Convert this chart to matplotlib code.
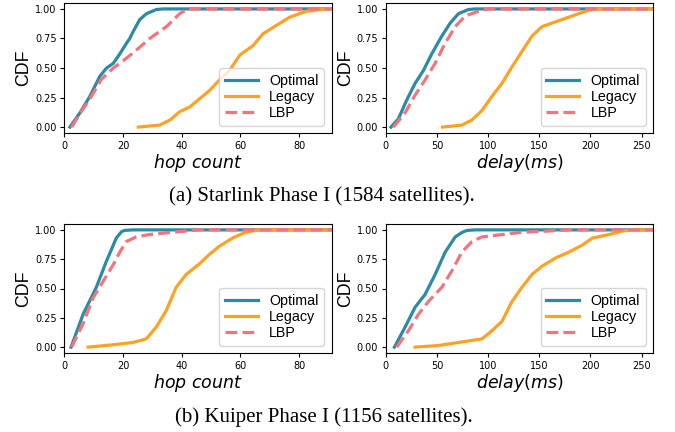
import numpy as np
import matplotlib
matplotlib.use("Agg")
import matplotlib.pyplot as plt

# colours
c_opt = "#2b8ba6"
c_leg = "#ffa123"
c_lbp = "#f6737b"

# ---- Starlink, hop count ----
sl_hop_opt_x = [1.9, 5.3, 8.7, 12.1, 14.4, 16.7, 18.9, 21.2, 22.3, 23.5, 25.7, 28.0, 31.4, 33.7]
sl_hop_opt_y = [0.0, 0.12, 0.26, 0.43, 0.50, 0.54, 0.62, 0.71, 0.75, 0.81, 0.91, 0.96, 0.995, 1.0]
sl_hop_lbp_x = [2.5, 5.5, 9.0, 12.5, 16.7, 20.0, 24.0, 29.1, 34.8, 39.3, 42.2]
sl_hop_lbp_y = [0.0, 0.12, 0.25, 0.40, 0.50, 0.56, 0.64, 0.75, 0.85, 0.96, 1.0]
sl_hop_leg_x = [25.2, 32.5, 36.0, 39.3, 42.7, 46.1, 49.5, 52.9, 56.3, 59.8, 64.3, 67.7, 72.2, 76.8, 82.4, 89.2]
sl_hop_leg_y = [0.0, 0.017, 0.06, 0.13, 0.17, 0.24, 0.31, 0.40, 0.48, 0.61, 0.69, 0.79, 0.86, 0.93, 0.98, 1.0]

# ---- Starlink, delay ----
sl_del_opt_x = [5.2, 12.4, 20.6, 28.7, 36.9, 45.0, 54.8, 63.0, 71.1, 80.9, 87.5]
sl_del_opt_y = [0.0, 0.07, 0.23, 0.37, 0.48, 0.62, 0.77, 0.88, 0.96, 0.995, 1.0]
sl_del_lbp_x = [7.5, 18.9, 28.7, 38.5, 48.3, 58.1, 67.9, 77.7, 90.7, 100.5]
sl_del_lbp_y = [0.0, 0.12, 0.27, 0.40, 0.54, 0.71, 0.85, 0.94, 0.98, 1.0]
sl_del_leg_x = [55.5, 74.4, 84.2, 94.0, 103.8, 113.6, 123.4, 133.1, 142.9, 152.7, 162.5, 172.3, 185.4, 198.4, 208.2]
sl_del_leg_y = [0.0, 0.017, 0.06, 0.14, 0.26, 0.37, 0.51, 0.64, 0.77, 0.85, 0.88, 0.91, 0.95, 0.99, 1.0]

# ---- Kuiper, hop count ----
ku_hop_opt_x = [2.3, 6.4, 10.9, 14.3, 17.7, 19.5, 20.5, 23.4]
ku_hop_opt_y = [0.0, 0.28, 0.51, 0.73, 0.93, 0.985, 0.995, 1.0]
ku_hop_lbp_x = [2.5, 6.4, 9.8, 13.2, 16.6, 18.9, 21.1, 24.5, 29.0, 36.9, 41.5, 46.0]
ku_hop_lbp_y = [0.0, 0.20, 0.42, 0.56, 0.70, 0.81, 0.90, 0.94, 0.96, 0.98, 0.99, 1.0]
ku_hop_leg_x = [8.1, 16.6, 23.4, 27.9, 31.3, 34.7, 38.1, 41.5, 46.0, 49.4, 52.8, 57.3, 61.8, 66.3]
ku_hop_leg_y = [0.0, 0.02, 0.04, 0.07, 0.17, 0.31, 0.51, 0.62, 0.71, 0.79, 0.86, 0.93, 0.98, 1.0]

# ---- Kuiper, delay ----
ku_del_opt_x = [8.5, 18.9, 28.7, 38.5, 48.3, 58.1, 67.9, 75.0, 79.3, 87.5]
ku_del_opt_y = [0.0, 0.17, 0.34, 0.45, 0.62, 0.81, 0.94, 0.98, 0.995, 1.0]
ku_del_lbp_x = [10.8, 22.2, 32.0, 41.8, 54.8, 64.6, 74.4, 84.2, 94.0, 113.6, 133.1, 159.3, 178.9]
ku_del_lbp_y = [0.0, 0.14, 0.28, 0.39, 0.51, 0.65, 0.81, 0.90, 0.94, 0.96, 0.98, 0.99, 1.0]
ku_del_leg_x = [28.7, 51.6, 71.1, 94.0, 103.8, 113.6, 123.4, 133.1, 142.9, 152.7, 165.8, 178.9, 192.0, 201.8, 218.1, 231.2, 244.3]
ku_del_leg_y = [0.0, 0.014, 0.04, 0.07, 0.14, 0.22, 0.39, 0.51, 0.62, 0.69, 0.76, 0.81, 0.87, 0.93, 0.96, 0.99, 1.0]

hop_xlim = 91
del_xlim = 261

fig = plt.figure(figsize=(6.75, 4.32), dpi=100)

def panel(rect, opt, leg, lbp, xmax, xlabel, xticks):
    ax = fig.add_axes(rect)
    ax.plot(list(opt[0]) + [xmax], list(opt[1]) + [1.0], color=c_opt, lw=2.3, label="Optimal")
    ax.plot(list(leg[0]) + [xmax], list(leg[1]) + [1.0], color=c_leg, lw=2.3, label="Legacy")
    ax.plot(list(lbp[0]) + [xmax], list(lbp[1]) + [1.0], color=c_lbp, lw=2.3, ls="--", label="LBP")
    ax.set_xlim(0, xmax)
    ax.set_ylim(-0.05, 1.05)
    ax.set_xticks(xticks)
    ax.set_yticks([0, 0.25, 0.5, 0.75, 1.0])
    ax.tick_params(labelsize=7, length=3, width=0.8, pad=2.5)
    ax.set_ylabel("CDF", fontsize=12.8, family="Liberation Sans", labelpad=2)
    ax.set_xlabel(xlabel, fontsize=12.5, labelpad=1)
    ax.legend(loc="lower right", prop={"family": "Liberation Sans", "size": 10.3},
              handlelength=2.3, borderpad=0.4, labelspacing=0.15, handletextpad=0.8)
    return ax

l1, l2, w = 64.3 / 675, 385.7 / 675, 267.2 / 675
panel([l1, 1 - 133 / 432, w, 130 / 432], (sl_hop_opt_x, sl_hop_opt_y), (sl_hop_leg_x, sl_hop_leg_y),
      (sl_hop_lbp_x, sl_hop_lbp_y), hop_xlim, r"$hop\ count$", [0, 20, 40, 60, 80])
panel([l2, 1 - 133 / 432, w, 130 / 432], (sl_del_opt_x, sl_del_opt_y), (sl_del_leg_x, sl_del_leg_y),
      (sl_del_lbp_x, sl_del_lbp_y), del_xlim, r"$delay(ms)$", [0, 50, 100, 150, 200, 250])
panel([l1, 1 - 353 / 432, w, 129 / 432], (ku_hop_opt_x, ku_hop_opt_y), (ku_hop_leg_x, ku_hop_leg_y),
      (ku_hop_lbp_x, ku_hop_lbp_y), hop_xlim, r"$hop\ count$", [0, 20, 40, 60, 80])
panel([l2, 1 - 353 / 432, w, 129 / 432], (ku_del_opt_x, ku_del_opt_y), (ku_del_leg_x, ku_del_leg_y),
      (ku_del_lbp_x, ku_del_lbp_y), del_xlim, r"$delay(ms)$", [0, 50, 100, 150, 200, 250])

fig.text(322 / 675, 1 - 197 / 432, "(a) Starlink Phase I (1584 satellites).", family="Liberation Serif",
         fontsize=15, ha="center", va="center")
fig.text(324 / 675, 1 - 417 / 432, "(b) Kuiper Phase I (1156 satellites).", family="Liberation Serif",
         fontsize=15, ha="center", va="center")

fig.savefig("out.png", dpi=100)
